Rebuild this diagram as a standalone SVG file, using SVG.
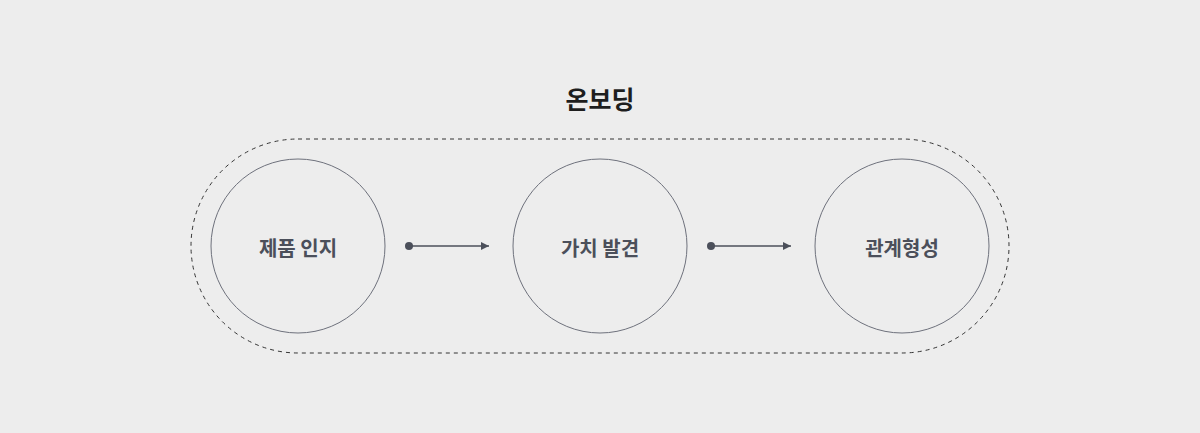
<svg xmlns="http://www.w3.org/2000/svg" width="1200" height="433" viewBox="0 0 1200 433">
<defs>
<style>
.node circle{fill:none;stroke:#6e717c;stroke-width:1}
.label{font-family:"Noto Sans CJK KR","Noto Sans",sans-serif;font-weight:700;font-size:20px;fill:#4b4f5a;text-anchor:middle;dominant-baseline:central}
.title{font-family:"Noto Sans CJK KR","Noto Sans",sans-serif;font-weight:700;font-size:25px;fill:#1e1e1e;text-anchor:middle;dominant-baseline:central}
.conn line{stroke:#4b4f5a;stroke-width:1.3}
.conn circle{fill:#4b4f5a}
</style>
<marker id="arr" viewBox="0 0 10 10" refX="10" refY="5" markerWidth="8" markerHeight="8" markerUnits="userSpaceOnUse" orient="auto">
<path d="M0,0 L10,5 L0,10 z" fill="#4b4f5a"/>
</marker>
</defs>
<rect width="1200" height="433" fill="#ededed"/>
<text class="title" x="600" y="98">온보딩</text>
<rect id="group" x="191" y="139" width="818" height="214" rx="107" ry="107" fill="none" stroke="#333" stroke-width="1" stroke-dasharray="4 4"/>
<g id="n1" class="node"><circle cx="298" cy="246" r="87"/><text class="label" x="298" y="247">제품 인지</text></g>
<g id="n2" class="node"><circle cx="600" cy="246" r="87"/><text class="label" x="600" y="247">가치 발견</text></g>
<g id="n3" class="node"><circle cx="902" cy="246" r="87"/><text class="label" x="902" y="247">관계형성</text></g>
<g id="connectors" class="conn">
<circle cx="409" cy="246" r="4"/><line x1="409" y1="246" x2="489" y2="246" marker-end="url(#arr)"/>
<circle cx="711" cy="246" r="4"/><line x1="711" y1="246" x2="791" y2="246" marker-end="url(#arr)"/>
</g>
</svg>
